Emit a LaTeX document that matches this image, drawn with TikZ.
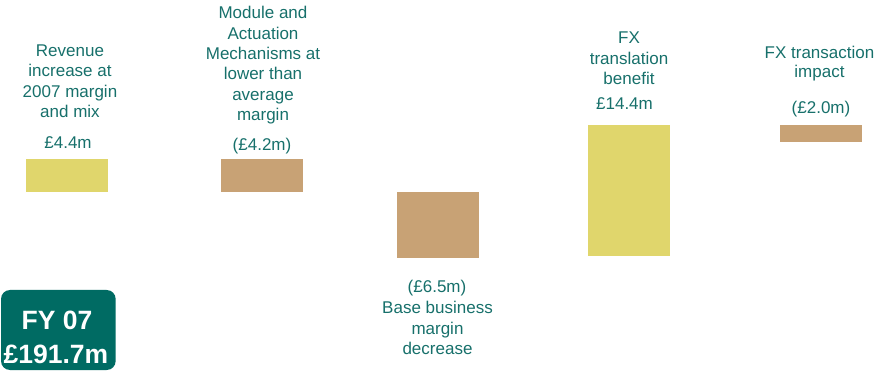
\documentclass[tikz,border=0pt]{standalone}
\usepackage{fontspec}
\setmainfont{Liberation Sans}
\definecolor{txtteal}{HTML}{17706B}
\definecolor{boxteal}{HTML}{006B63}
\definecolor{baryellow}{HTML}{E0D66C}
\definecolor{bartan}{HTML}{C8A275}
\tikzset{
  lbl/.style={anchor=north, inner sep=0pt, align=center, text=txtteal,
    font=\fontsize{17}{20.4}\selectfont},
  posbar/.style={fill=baryellow, draw=none},
  negbar/.style={fill=bartan, draw=none},
}
\begin{document}
\begin{tikzpicture}[x=1pt,y=-1pt]
\useasboundingbox (0,0) rectangle (878,371);
% bars
\fill[posbar] (26,158.7) rectangle (108,191.7) coordinate (b1);
\fill[negbar] (221,158.7) rectangle (303,191.7) coordinate (b2);
\fill[negbar] (397,192) rectangle (479,257.7) coordinate (b3);
\fill[posbar] (588,125) rectangle (670,255.7) coordinate (b4);
\fill[negbar] (780,125) rectangle (862,141.7) coordinate (b5);
% labels
\node[lbl] (t1) at (70,44.5) {Revenue\\increase at\\2007 margin\\and mix};
\node[lbl] (v1) at (68,136.8) {£4.4m};
\node[lbl] (t2) at (263,6.1) {Module and\\Actuation\\Mechanisms at\\lower than\\average\\margin};
\node[lbl] (v2) at (262,137.8) {(£4.2m)};
\node[lbl] (v3) at (437,279.5) {(£6.5m)};
\node[lbl] (t3) at (437.5,301.1) {Base business\\margin\\decrease};
\node[lbl] (t4) at (629,32.1) {FX\\translation\\benefit};
\node[lbl] (v4) at (624.5,97.1) {£14.4m};
\node[lbl, font=\fontsize{17}{19.2}\selectfont] (t5) at (819.5,45.5) {FX transaction\\impact};
\node[lbl] (v5) at (821,101.1) {(£2.0m)};
% FY box
\fill[boxteal, rounded corners=9pt] (1,290) rectangle (115.7,370);
\node[anchor=base, inner sep=0pt, text=white, font=\bfseries\fontsize{26.5}{32}\selectfont] (fy) at (57,329.3) {FY 07};
\node[anchor=base, inner sep=0pt, text=white, font=\bfseries\fontsize{26.5}{32}\selectfont] (fyv) at (56,363.3) {£191.7m};
\end{tikzpicture}
\end{document}
